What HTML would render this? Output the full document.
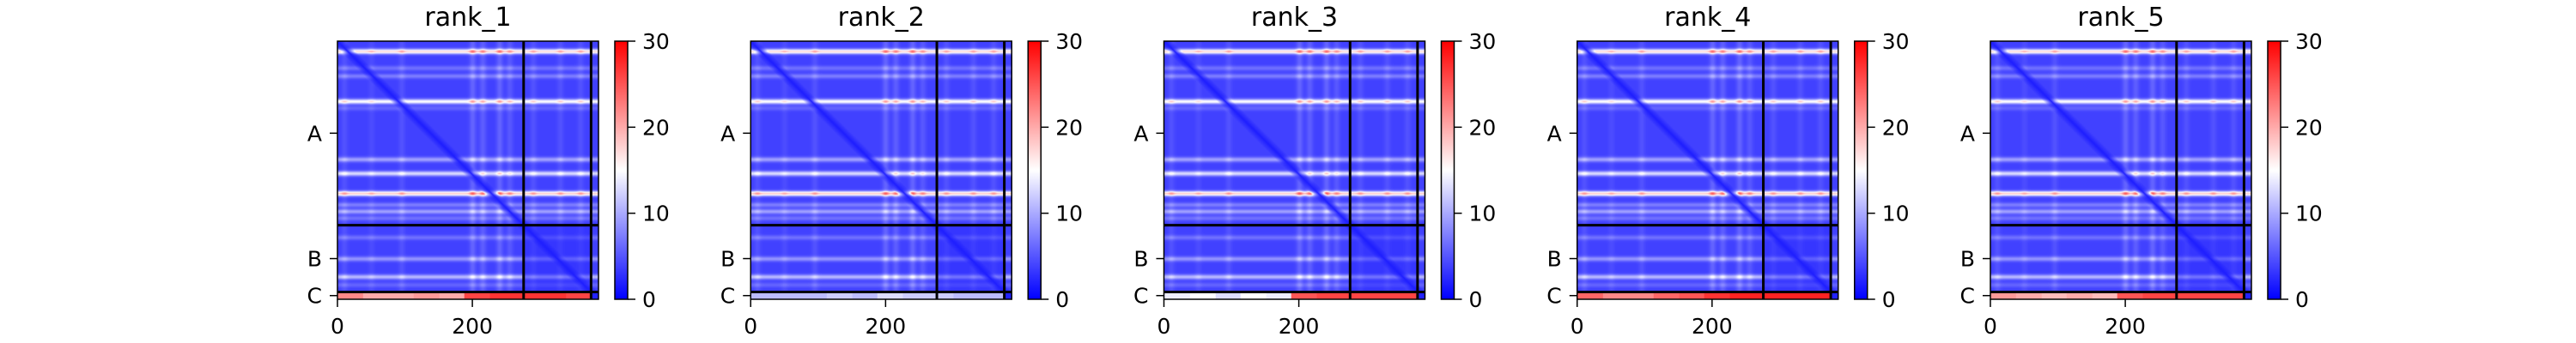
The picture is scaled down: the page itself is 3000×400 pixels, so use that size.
<!DOCTYPE html>
<html><head><meta charset="utf-8"><style>
body{margin:0;background:#fff;width:3000px;height:400px;overflow:hidden;position:relative;font-family:"DejaVu Sans","Liberation Sans",sans-serif}
canvas{position:absolute;width:304px;height:301px;top:48px;z-index:1}
svg{position:absolute;left:0;top:0;z-index:2}
</style></head><body>
<svg id="s" width="3000" height="400"></svg>
<script>
const panelTitles = ['rank_1','rank_2','rank_3','rank_4','rank_5'];
const chainNames = ['A','B','C'];
const chainLengths = [276, 100, 11];
const xTicks = [0, 200];
const cbarTicks = [0, 10, 20, 30];
const rowStripePos = [15, 40, 52, 90, 100, 177, 198, 228, 245, 255, 265, 294, 326, 353, 365];
const rowStripeVal = [19, 4, 5, 16, 3, 8, 13, 20, 5, 8, 4, 4, 7, 10, 3];
const colStripePos = [10, 50, 95, 200, 215, 240, 255, 290, 330, 360];
const colStripeVal = [3, 2, 3, 6, 5, 6, 4, 3, 3, 3];
const cRowVals = [
 [22,20,20,21,20,26,27,27,27,26],
 [11,11,11,12,11,13,12,12,11,11],
 [14,15,13,15,14,25,26,26,26,26],
 [24,22,22,24,25,27,28,28,28,28],
 [21,20,19,20,19,25,26,26,26,26]
];

const N = chainLengths.reduce((a,b)=>a+b,0);
const bounds = [0]; chainLengths.forEach(l=>bounds.push(bounds[bounds.length-1]+l));
const svg = document.getElementById('s');
const NS = 'http://www.w3.org/2000/svg';
function el(tag, attrs, parent){const e=document.createElementNS(NS,tag);for(const k in attrs)e.setAttribute(k,attrs[k]);(parent||svg).appendChild(e);return e;}
function bwr(v){let t=Math.max(0,Math.min(1,v/30));let r,g,b;
 if(t<0.5){const u=t/0.5;r=g=Math.round(255*u);b=255;}else{const u=(t-0.5)/0.5;r=255;g=b=Math.round(255*(1-u));}return [r,g,b];}
function gauss(d,w){return Math.exp(-d*d/(2*w*w));}

const rowAdd=new Float32Array(N), colAdd=new Float32Array(N);
for(let i=0;i<N;i++){let s=0;rowStripePos.forEach((p,k)=>s+=rowStripeVal[k]*gauss(i-p,2.6));rowAdd[i]=s;
 let c=0;colStripePos.forEach((p,k)=>c+=colStripeVal[k]*gauss(i-p,3.5));colAdd[i]=c;}

const defs=el('defs',{});
const grad=el('linearGradient',{id:'cb',x1:0,y1:1,x2:0,y2:0},defs);
el('stop',{offset:'0','stop-color':'#0000ff'},grad);
el('stop',{offset:'0.5','stop-color':'#ffffff'},grad);
el('stop',{offset:'1','stop-color':'#ff0000'},grad);

const HX=304, HY=301, TOP=48;
panelTitles.forEach((title,p)=>{
 const ox=393+p*481.25;
 const xs=r=>ox+r*HX/N, ys=r=>TOP+r*HY/N;
 const cv=document.createElement('canvas');cv.width=N;cv.height=N;cv.style.left=ox+'px';
 
 
 document.body.appendChild(cv);
 const ctx=cv.getContext('2d');const img=ctx.createImageData(N,N);
 const cB=bounds[2];
 for(let i=0;i<N;i++)for(let j=0;j<N;j++){
  let v;
  if(i>=cB){ v = j>=cB?2:cRowVals[p][Math.min(9,Math.floor(j/(cB/10)))]; }
  else{
   v=3.8+rowAdd[i]*(0.7+0.25*Math.min(colAdd[j],6)/6)+colAdd[j]*0.35;
   const bi=i>=bounds[1], bj=j>=bounds[1]&&j<cB;
   if(bi&&bj) v=2.5+(v-2.5)*0.5;
   const d=Math.abs(i-j); if(d<12) v=Math.min(v,1.8+(v-1.8)*d/12);
  }
  const c=bwr(v);const o=(i*N+j)*4;img.data[o]=c[0];img.data[o+1]=c[1];img.data[o+2]=c[2];img.data[o+3]=255;}
 ctx.putImageData(img,0,0);

 const g=el('g',{});
 
 
 const t=el('text',{x:ox+HX/2,y:30,'font-size':30,'text-anchor':'middle',fill:'#000'},g);t.textContent=title;
 
 
 [bounds[1],bounds[2]].forEach(b=>{
  el('line',{x1:xs(b),x2:xs(b),y1:TOP,y2:TOP+HY,stroke:'#000','stroke-width':3},g);
  el('line',{x1:ox,x2:ox+HX,y1:ys(b),y2:ys(b),stroke:'#000','stroke-width':3},g);
 });
 el('rect',{x:ox,y:TOP,width:HX,height:HY,fill:'none',stroke:'#000','stroke-width':1.5},g);
 chainNames.forEach((n,k)=>{const yc=ys((bounds[k]+bounds[k+1])/2);
  el('line',{x1:ox-9,x2:ox,y1:yc,y2:yc,stroke:'#000','stroke-width':1.5},g);
  const tx=el('text',{x:ox-18,y:yc+9,'font-size':25,'text-anchor':'end'},g);tx.textContent=n;
  
  });
 xTicks.forEach(v=>{const x=xs(v);
  el('line',{x1:x,x2:x,y1:TOP+HY,y2:TOP+HY+9,stroke:'#000','stroke-width':1.5},g);
  const tx=el('text',{x:x,y:389,'font-size':25,'text-anchor':'middle'},g);tx.textContent=v;
  
  });
 const cx=ox+323;
 const cb=el('rect',{x:cx,y:TOP,width:15,height:HY,fill:'url(#cb)',stroke:'#000','stroke-width':1.5},g);
 
 
 cbarTicks.forEach(v=>{const y=TOP+HY-v/30*HY;
  el('line',{x1:cx+15,x2:cx+24,y1:y,y2:y,stroke:'#000','stroke-width':1.5},g);
  const tx=el('text',{x:cx+32,y:y+9,'font-size':25},g);tx.textContent=v;
  
  });
});
</script>
</body></html>
